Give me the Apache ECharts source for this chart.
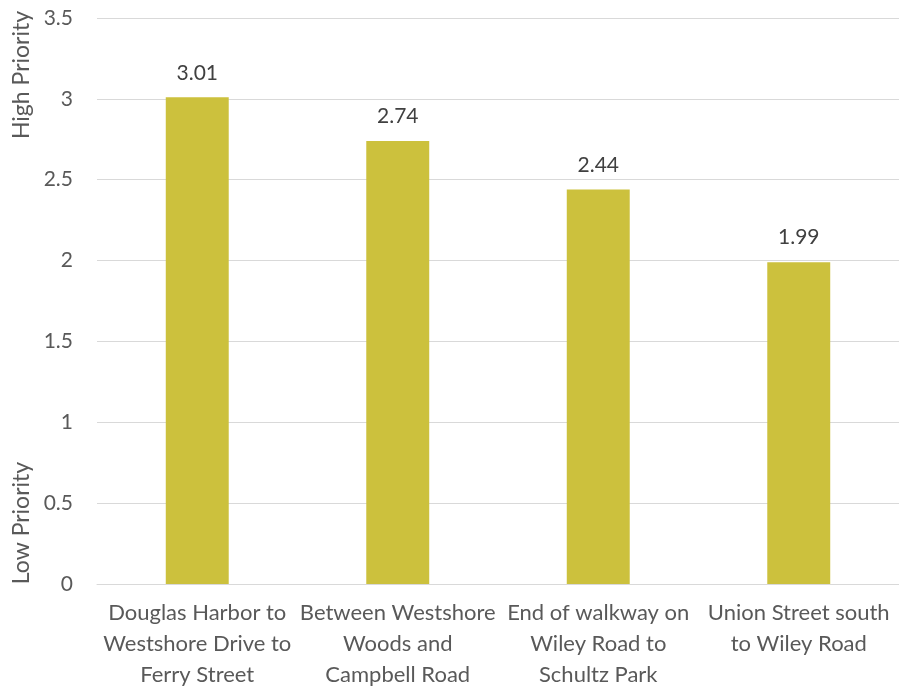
<!DOCTYPE html>
<html>
<head>
<meta charset="utf-8">
<script src="https://cdn.jsdelivr.net/npm/echarts@6/dist/echarts.min.js"></script>
<style>
  html, body { margin: 0; padding: 0; background: #fff; }
  #chart { width: 899px; height: 689px; }
</style>
</head>
<body>
<div id="chart"></div>
<script>
// segment names, as shown under each bar
var categories = [
  'Douglas Harbor to\nWestshore Drive to\nFerry Street',
  'Between Westshore\nWoods and\nCampbell Road',
  'End of walkway on\nWiley Road to\nSchultz Park',
  'Union Street south\nto Wiley Road'
];
var scores = [3.01, 2.74, 2.44, 1.99];
var yTicks = [0, 0.5, 1, 1.5, 2, 2.5, 3, 3.5];

var FONT = 'Lato, "Open Sans", sans-serif';

var chart = echarts.init(document.getElementById('chart'));

var option = {
  animation: false,
  grid: { left: 97, right: 0, top: 18, bottom: 105, outerBoundsMode: 'none' },
  xAxis: {
    type: 'category',
    data: categories,
    axisLine: { lineStyle: { color: '#d9d9d9', width: 1 } },
    axisTick: { show: false },
    axisLabel: {
      color: '#595959',
      fontFamily: FONT,
      fontSize: 22,
      lineHeight: 31,
      margin: 13,
      interval: 0
    }
  },
  yAxis: {
    type: 'value',
    min: yTicks[0],
    max: yTicks[yTicks.length - 1],
    interval: 0.5,
    axisLine: { show: false },
    axisTick: { show: false },
    splitLine: { lineStyle: { color: '#d9d9d9', width: 1 } },
    axisLabel: {
      color: '#595959',
      fontFamily: FONT,
      fontSize: 21,
      margin: 24
    }
  },
  series: [{
    type: 'bar',
    data: scores,
    barWidth: '31.4%',
    itemStyle: { color: '#ccc13d' },
    label: {
      show: true,
      position: 'top',
      distance: 14,
      color: '#404040',
      fontFamily: FONT,
      fontSize: 21,
      formatter: function (p) { return p.value.toFixed(2); }
    }
  }],
  graphic: [
    {
      type: 'text',
      rotation: Math.PI / 2,
      style: { text: 'High Priority', fill: '#595959', font: '23px ' + FONT, textAlign: 'center', textVerticalAlign: 'middle' },
      x: 22, y: 75
    },
    {
      type: 'text',
      rotation: Math.PI / 2,
      style: { text: 'Low Priority', fill: '#595959', font: '23px ' + FONT, textAlign: 'center', textVerticalAlign: 'middle' },
      x: 22, y: 523
    }
  ]
};

chart.setOption(option);
</script>
</body>
</html>
